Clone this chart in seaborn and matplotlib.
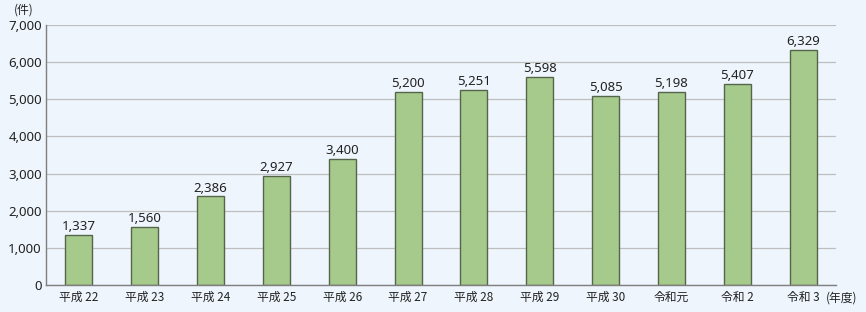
import matplotlib
matplotlib.use("Agg")
import matplotlib.pyplot as plt
import seaborn as sns
import pandas as pd

categories = ["平成 22", "平成 23", "平成 24", "平成 25", "平成 26", "平成 27",
              "平成 28", "平成 29", "平成 30", "令和元", "令和 2", "令和 3"]
values = [1337, 1560, 2386, 2927, 3400, 5200, 5251, 5598, 5085, 5198, 5407, 6329]
yticks = [0, 1000, 2000, 3000, 4000, 5000, 6000, 7000]

sns.set_theme(style="white")
plt.rcParams['font.family'] = ['Noto Sans CJK JP', 'DejaVu Sans']

bg = "#EEF5FC"
fig = plt.figure(figsize=(8.66, 3.12), dpi=100, facecolor=bg)
ax = fig.add_axes([46/866, 1-285/312, (836-46)/866, (285-25)/312])
ax.set_facecolor(bg)

df = pd.DataFrame({"year": categories, "count": values})
sns.barplot(data=df, x="year", y="count", ax=ax, color="#A6CA8C",
            edgecolor="#55654A", linewidth=1.0, width=0.41, saturation=1)

ax.set_xlim(-0.5, 11.5)
ax.set_ylim(0, 7000)
ax.set_yticks(yticks)
ax.set_yticklabels([f"{v:,}" for v in yticks], fontsize=9.5, color="#222222",
                   family=['Noto Sans', 'DejaVu Sans'])
ax.tick_params(axis="x", labelsize=8.5, colors="#222222", length=0, pad=4)
ax.tick_params(axis="y", length=0, pad=3)
ax.yaxis.grid(True, color="#BEBEBE", linewidth=0.9)
ax.set_axisbelow(True)
ax.set_xlabel("")
ax.set_ylabel("")
for s in ["top", "right"]:
    ax.spines[s].set_visible(False)
for s in ["left", "bottom"]:
    ax.spines[s].set_color("#7F7F7F")
    ax.spines[s].set_linewidth(1.0)

for i, v in enumerate(values):
    ax.text(i, v + 50, f"{v:,}", ha="center", va="bottom", fontsize=9.5,
            color="#222222", family=['Noto Sans', 'DejaVu Sans'])

fig.text(24/866, 1-10/312, "(件)", ha="center", va="center", fontsize=8.5, color="#222222")
fig.text(842/866, 1-298/312, "(年度)", ha="center", va="center", fontsize=8.5, color="#222222")

fig.savefig("out.png", dpi=100, facecolor=bg)
